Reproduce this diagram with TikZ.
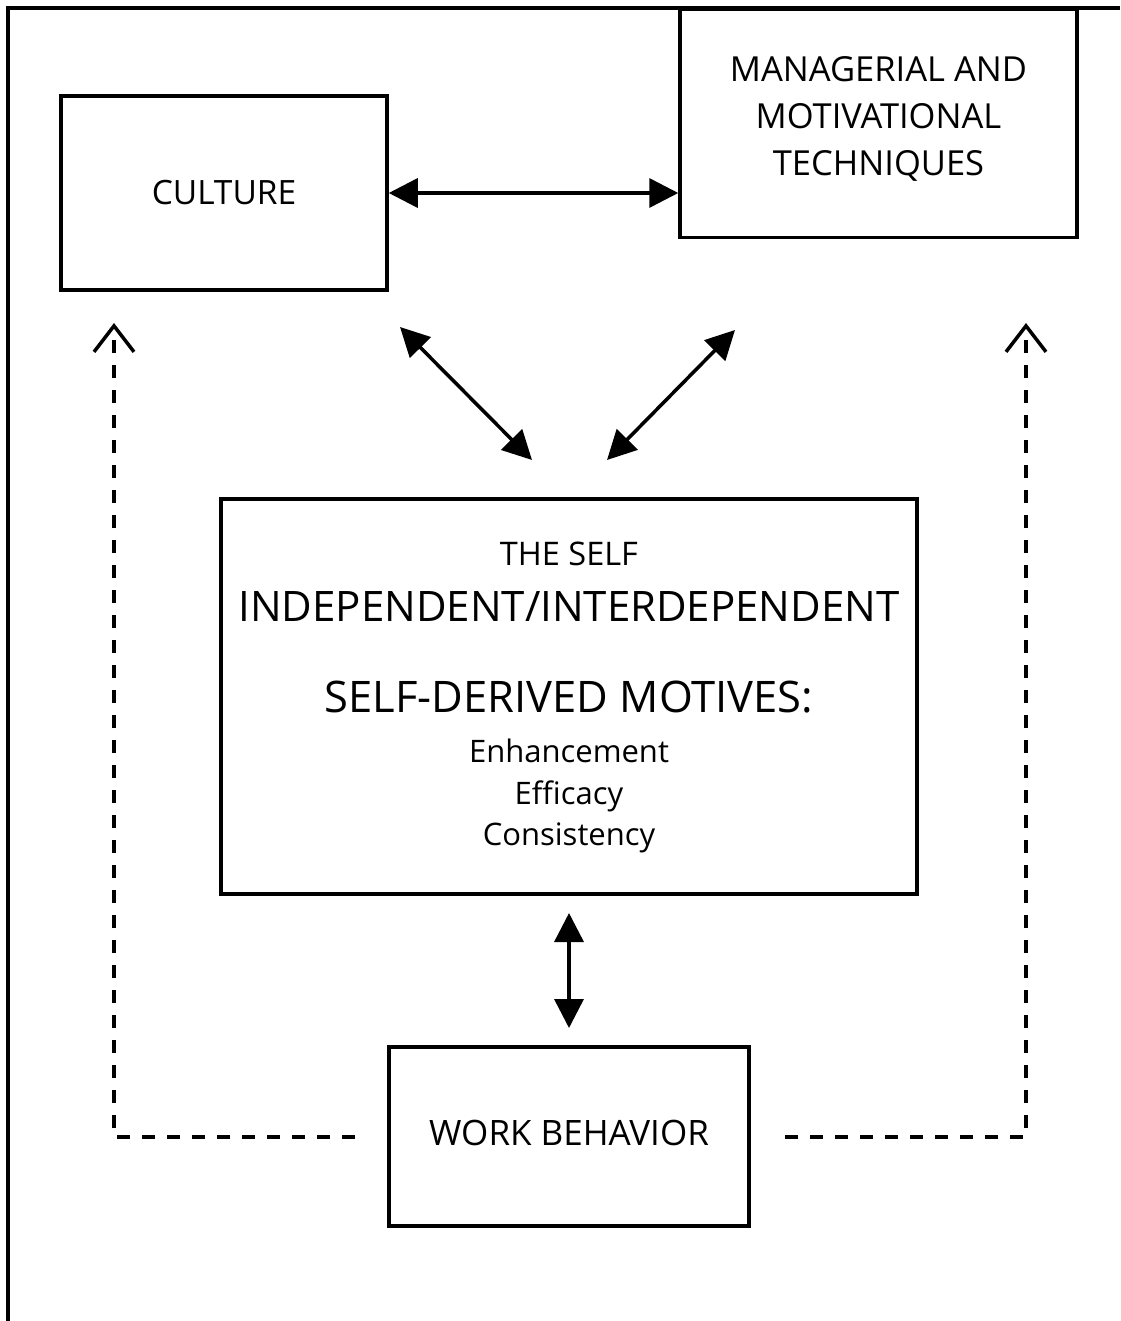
\documentclass[tikz,border=0pt]{standalone}
\usepackage{fontspec}
\setmainfont{Open Sans}
\usetikzlibrary{arrows.meta}
\begin{document}
\begin{tikzpicture}[x=1pt,y=-1pt,
  box/.style={draw,line width=3.5pt,rectangle,inner sep=0pt,align=center},
  biarrow/.style={line width=3.5pt,{Triangle[length=29pt,width=29pt]}-{Triangle[length=29pt,width=29pt]}},
  feedback/.style={line width=3.5pt,dash pattern=on 13pt off 12pt,-{Straight Barb[length=26pt,width=40pt,line width=3.5pt]}}]
\useasboundingbox (0,0) rectangle (1120,1321);
\fill[white] (0,0) rectangle (1120,1321);
% outer frame (top and left sides)
\draw[line width=4pt] (1120,8) -- (8,8) -- (8,1321);
% boxes
\node[box,minimum width=326pt,minimum height=194pt,font=\fontsize{33.5}{40}\selectfont] (culture) at (224,193) {CULTURE};
\node[box,minimum width=397pt,minimum height=228pt,anchor=north] (mgmt) at (878.5,8) {};
\node[align=center,font=\fontsize{34.5}{47}\selectfont] (mgmttext) at (878.5,119)
  {MANAGERIAL AND\\MOTIVATIONAL\\TECHNIQUES};
\node[box,minimum width=696pt,minimum height=395pt] (self) at (569,696.5) {};
\node[font=\fontsize{32.5}{36}\selectfont] (selftitle) at (569,554) {THE SELF};
\node[font=\fontsize{42}{48}\selectfont] (indep) at (569,607) {INDEPENDENT/INTERDEPENDENT};
\node[font=\fontsize{43.5}{48}\selectfont] (motives) at (569,697) {SELF-DERIVED MOTIVES:};
\node[align=center,font=\fontsize{31}{41.5}\selectfont] (motivelist) at (569,796)
  {Enhancement\\Efficacy\\Consistency};
\node[box,minimum width=360pt,minimum height=179pt] (work) at (569,1136.5) {};
\node[font=\fontsize{35}{40}\selectfont] (worktext) at (569,1133) {WORK BEHAVIOR};
% free ends of the diagonal and vertical connectors
\coordinate (dl1) at (400,327);
\coordinate (dl2) at (532,460);
\coordinate (dr1) at (735,330);
\coordinate (dr2) at (607,460);
\coordinate (v1) at (569,913);
\coordinate (v2) at (569,1028);
\coordinate (fl0) at (355,1137);
\coordinate (fl1) at (114,1137);
\coordinate (fl2) at (114,323);
\coordinate (fr0) at (785,1137);
\coordinate (fr1) at (1026,1137);
\coordinate (fr2) at (1026,323);
% connectors
\draw[biarrow] (culture.east) -- (culture.east -| mgmt.west);
\draw[biarrow] (dl1) -- (dl2);
\draw[biarrow] (dr1) -- (dr2);
\draw[biarrow] (v1) -- (v2);
\draw[feedback] (fl0) -- (fl1) -- (fl2);
\draw[feedback] (fr0) -- (fr1) -- (fr2);
\end{tikzpicture}
\end{document}
